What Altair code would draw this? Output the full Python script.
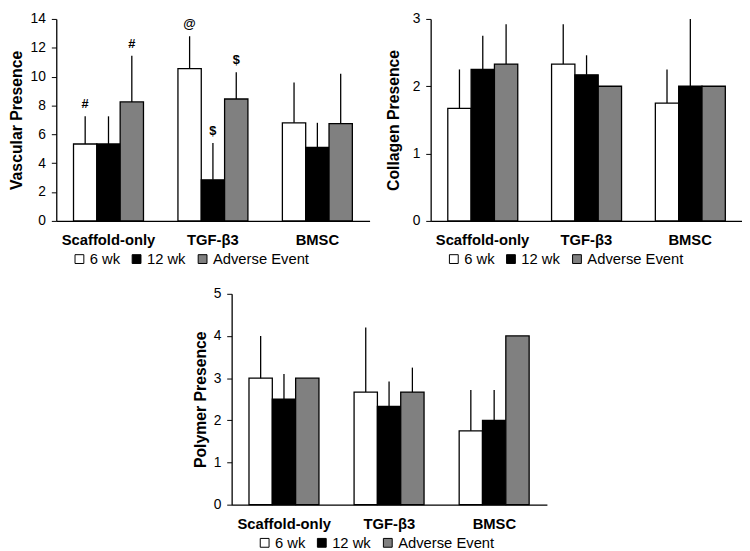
import altair as alt
import pandas as pd

groups = ["Scaffold-only", "TGF-β3", "BMSC"]
series = ["6 wk", "12 wk", "Adverse Event"]
colors = ["#ffffff", "#000000", "#808080"]

# Vascular presence (means, upper error-bar ends, annotations)
vasc_6wk = [5.33, 10.55, 6.8]
vasc_12wk = [5.33, 2.85, 5.1]
vasc_ae = [8.25, 8.45, 6.75]
vasc_6wk_hi = [7.25, 12.8, 9.6]
vasc_12wk_hi = [7.25, 5.4, 6.8]
vasc_ae_hi = [11.45, 10.3, 10.2]
vasc_6wk_note = ["#", "@", ""]
vasc_12wk_note = ["", "$", ""]
vasc_ae_note = ["#", "$", ""]

# Collagen presence
coll_6wk = [1.67, 2.33, 1.75]
coll_12wk = [2.25, 2.17, 2.0]
coll_ae = [2.33, 2.0, 2.0]
coll_6wk_hi = [2.25, 2.92, 2.25]
coll_12wk_hi = [2.75, 2.46, 3.0]
coll_ae_hi = [2.92, None, None]

# Polymer presence
poly_6wk = [3.0, 2.67, 1.75]
poly_12wk = [2.5, 2.33, 2.0]
poly_ae = [3.0, 2.67, 4.0]
poly_6wk_hi = [4.0, 4.2, 2.72]
poly_12wk_hi = [3.1, 2.92, 2.72]
poly_ae_hi = [None, 3.25, None]

FONT = "Liberation Sans"


def make_df(means, his, notes=None):
    rows = []
    for si, s in enumerate(series):
        for gi, g in enumerate(groups):
            rows.append({
                "group": g,
                "series": s,
                "mean": means[si][gi],
                "hi": his[si][gi],
                "note": notes[si][gi] if notes else "",
            })
    return pd.DataFrame(rows)


def panel(df, ytitle, ymax, step, w, h, lx, min_ext, tpad):
    x = alt.X("group:N", sort=groups, title=None,
              scale=alt.Scale(paddingInner=0.33, paddingOuter=0.165),
              axis=alt.Axis(labelAngle=0, ticks=False, labelFontWeight="bold",
                            labelFontSize=15, labelPadding=12, labelColor="black",
                            domainColor="black", domainWidth=1.3, labelFont=FONT))
    xo = alt.XOffset("series:N", sort=series,
                     scale=alt.Scale(paddingInner=0, paddingOuter=0))
    yaxis = alt.Axis(values=list(range(0, ymax + 1, step)), grid=False,
                     format="d", labelOverlap=False,
                     labelFontSize=14, labelColor="black", labelPadding=6,
                     tickSize=5, tickColor="black", domainColor="black",
                     domainWidth=1.3, titleFontSize=16, titleFontWeight="bold",
                     titleColor="black", titlePadding=tpad, minExtent=min_ext,
                     labelFont=FONT, titleFont=FONT)
    yscale = alt.Scale(domain=[0, ymax], nice=False, zero=True)
    y = alt.Y("mean:Q", title=ytitle, scale=yscale, axis=yaxis)
    yhi = alt.Y("hi:Q", title=ytitle, scale=yscale, axis=yaxis)
    color = alt.Color("series:N", sort=series,
                      scale=alt.Scale(domain=series, range=colors),
                      legend=alt.Legend(title=None, orient="none", legendX=lx,
                                        legendY=h + 31, direction="horizontal",
                                        symbolType="square", symbolSize=80,
                                        symbolStrokeColor="black", symbolStrokeWidth=1,
                                        labelFontSize=15, labelFont=FONT,
                                        labelColor="black", labelOffset=3,
                                        columnPadding=9, padding=0))
    base = alt.Chart(df)
    bars = base.mark_bar(stroke="black", strokeWidth=1.3).encode(
        x=x, xOffset=xo, y=y, color=color)
    rules = base.transform_filter("isValid(datum.hi)").mark_rule(
        color="black", strokeWidth=1.3).encode(
        x=x, xOffset=xo, y=y, y2="hi:Q")
    notes = base.transform_filter("datum.note != ''").mark_text(
        baseline="bottom", dy=-5, fontSize=13, fontWeight="bold", font=FONT,
        color="black").encode(x=x, xOffset=xo, y=yhi, text="note:N")
    return alt.layer(bars, rules, notes).properties(width=w, height=h)


vasc_df = make_df([vasc_6wk, vasc_12wk, vasc_ae],
                  [vasc_6wk_hi, vasc_12wk_hi, vasc_ae_hi],
                  [vasc_6wk_note, vasc_12wk_note, vasc_ae_note])
coll_df = make_df([coll_6wk, coll_12wk, coll_ae],
                  [coll_6wk_hi, coll_12wk_hi, coll_ae_hi])
poly_df = make_df([poly_6wk, poly_12wk, poly_ae],
                  [poly_6wk_hi, poly_12wk_hi, poly_ae_hi])

p1 = panel(vasc_df, "Vascular Presence", 14, 2, 318, 205, 16, 24, 6)
p2 = panel(coll_df, "Collagen Presence", 3, 1, 316, 205, 16, 24, 6)
p3 = panel(poly_df, "Polymer Presence", 5, 1, 320, 214, 26, 18, 5)

# invisible layout spacer that shifts the lower panel to its place
spacer = alt.Chart(pd.DataFrame({"v": [0]})).mark_point(opacity=0).encode(
    x=alt.value(0), y=alt.value(0)).properties(width=138, height=10)

top = alt.hconcat(p1, p2, spacing=16).resolve_scale(
    color="independent", x="independent", y="independent").resolve_legend(color="independent")
bottom = alt.hconcat(spacer, p3, spacing=0).resolve_scale(
    color="independent", x="independent", y="independent").resolve_legend(color="independent")

chart = alt.vconcat(top, bottom, spacing=20).resolve_scale(
    color="independent", x="independent", y="independent").resolve_legend(
    color="independent").properties(
    padding={"left": 0, "top": 0, "right": 0, "bottom": 0},
    background="white"
).configure_view(stroke="transparent", strokeWidth=0)

chart.save("out.html", embed_options={"renderer": "svg", "actions": False})
